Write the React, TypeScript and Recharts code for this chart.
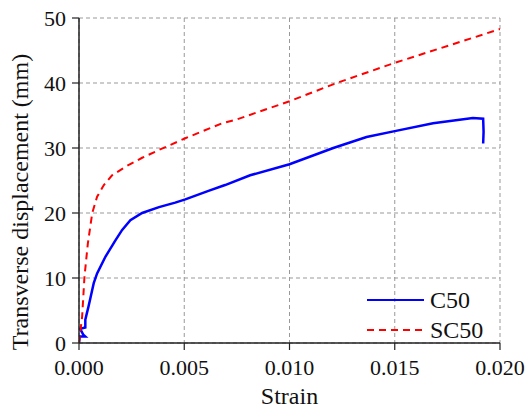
import React from 'react'
import { LineChart, Line, XAxis, YAxis, CartesianGrid } from 'recharts'

const c50Strain = [
  0, 0.00003, 0.0003, 0.0002, 0.00005, 0.0003, 0.0003, 0.00045, 0.00054, 0.0007, 0.00086,
  0.00126, 0.00173, 0.00205, 0.00244, 0.003, 0.0038, 0.00457, 0.00505, 0.00615, 0.00694,
  0.00813, 0.01, 0.01208, 0.01366, 0.015, 0.01682, 0.01871, 0.0192, 0.01922, 0.0192,
]
const c50Disp = [
  0, 1.0, 1.0, 1.3, 2.2, 2.4, 3.6, 5.6, 6.9, 9.2, 10.7,
  13.3, 15.8, 17.4, 18.9, 20.0, 20.9, 21.6, 22.1, 23.4, 24.3,
  25.8, 27.5, 30.0, 31.7, 32.6, 33.8, 34.6, 34.5, 32.5, 30.7,
]

const sc50Strain = [
  0, 0.00015, 0.00026, 0.00042, 0.00063, 0.00086, 0.00118, 0.00157, 0.0022, 0.003,
  0.0038, 0.00505, 0.0068, 0.0075, 0.01, 0.01224, 0.015, 0.0176, 0.02,
]
const sc50Disp = [
  0, 4.1, 10.2, 15.3, 20.0, 22.5, 24.3, 25.8, 27.1, 28.5,
  29.7, 31.5, 33.8, 34.4, 37.2, 40.0, 43.1, 45.8, 48.3,
]

const xTicks = [0, 0.005, 0.01, 0.015, 0.02]
const xMinorTicks = [0.0025, 0.0075, 0.0125, 0.0175]
const xTopTicks = [0.002, 0.004, 0.006, 0.008, 0.01, 0.012, 0.014, 0.016, 0.018]
const yTicks = [0, 10, 20, 30, 40, 50]
const yMinorTicks = [5, 15, 25, 35, 45]

const series = [
  { name: 'C50', color: '#0000ff', width: 2.5, dash: undefined as string | undefined },
  { name: 'SC50', color: '#ff0000', width: 2, dash: '7 5' },
]

const c50Data = c50Strain.map((x, i) => ({ x, y: c50Disp[i] }))
const sc50Data = sc50Strain.map((x, i) => ({ x, y: sc50Disp[i] }))

const FONT = "'Liberation Serif', 'Times New Roman', Times, serif"
const AXIS = '#222'

const tickStyle = { fontSize: 22, fill: '#111', fontFamily: FONT, style: { fontFamily: FONT } }
const blank = () => ''

const YTitle = () => {
  const cx = 20
  const cy = 202
  return (
    <text
      x={cx}
      y={cy}
      transform={`rotate(-90 ${cx} ${cy})`}
      textAnchor="middle"
      dominantBaseline="central"
      fontSize={24}
      fill="#111"
      style={{ fontFamily: FONT }}
    >
      Transverse displacement (mm)
    </text>
  )
}

function LegendBox() {
  return (
    <svg width={130} height={62} style={{ position: 'absolute', left: 365, top: 285 }}>
      {series.map((s, i) => (
        <g key={s.name}>
          <line
            x1={2}
            x2={59}
            y1={15 + i * 30}
            y2={15 + i * 30}
            stroke={s.color}
            strokeWidth={2}
            strokeDasharray={s.dash}
          />
          <text x={65} y={15 + i * 30} dominantBaseline="central" fontSize={24} fill="#111" style={{ fontFamily: FONT }}>
            {s.name}
          </text>
        </g>
      ))}
    </svg>
  )
}

export default function App() {
  return (
    <div style={{ position: 'absolute', left: 0, top: 0, width: 528, height: 408, background: '#fff', fontFamily: FONT }}>
      <LineChart width={528} height={408} margin={{ top: 18, right: 28, bottom: 0, left: 0 }} style={{ fontFamily: FONT }}>
        <CartesianGrid xAxisId="x" yAxisId="y" stroke="#999" strokeDasharray="4 3" />
        <XAxis
          xAxisId="xminor"
          type="number"
          domain={[0, 0.02]}
          allowDataOverflow
          ticks={xMinorTicks}
          interval={0}
          mirror
          height={0}
          tickSize={4}
          tickFormatter={blank}
          axisLine={false}
          tickLine={{ stroke: AXIS, strokeWidth: 1.2 }}
        />
        <XAxis
          xAxisId="x"
          dataKey="x"
          type="number"
          domain={[0, 0.02]}
          allowDataOverflow
          ticks={xTicks}
          interval={0}
          height={65}
          tickSize={7}
          tickMargin={9}
          tick={tickStyle}
          tickFormatter={(v: number) => v.toFixed(3)}
          axisLine={{ stroke: AXIS, strokeWidth: 1.5 }}
          tickLine={{ stroke: AXIS, strokeWidth: 1.2 }}
          label={{ value: 'Strain', position: 'insideBottom', offset: 4, fontSize: 24, fill: '#111', style: { fontFamily: FONT } }}
        />
        <XAxis
          xAxisId="top"
          orientation="top"
          type="number"
          domain={[0, 0.02]}
          allowDataOverflow
          ticks={xTopTicks}
          interval={0}
          mirror
          height={0}
          tickSize={4}
          tickFormatter={blank}
          axisLine={{ stroke: AXIS, strokeWidth: 1.5 }}
          tickLine={{ stroke: AXIS, strokeWidth: 1.2 }}
        />
        <YAxis
          yAxisId="yminor"
          type="number"
          domain={[0, 50]}
          allowDataOverflow
          ticks={yMinorTicks}
          interval={0}
          mirror
          width={0}
          tickSize={4}
          tickFormatter={blank}
          axisLine={false}
          tickLine={{ stroke: AXIS, strokeWidth: 1.2 }}
        />
        <YAxis
          yAxisId="y"
          type="number"
          domain={[0, 50]}
          allowDataOverflow
          ticks={yTicks}
          interval={0}
          width={79}
          tickSize={7}
          tickMargin={6}
          tick={tickStyle}
          axisLine={{ stroke: AXIS, strokeWidth: 1.5 }}
          tickLine={{ stroke: AXIS, strokeWidth: 1.2 }}
          label={<YTitle />}
        />
        <YAxis
          yAxisId="right"
          orientation="right"
          type="number"
          domain={[0, 50]}
          allowDataOverflow
          ticks={yMinorTicks}
          interval={0}
          mirror
          width={0}
          tickSize={4}
          tickFormatter={blank}
          axisLine={{ stroke: AXIS, strokeWidth: 1.5 }}
          tickLine={{ stroke: AXIS, strokeWidth: 1.2 }}
        />
        <Line
          xAxisId="x"
          yAxisId="y"
          data={c50Data}
          dataKey="y"
          name={series[0].name}
          type="linear"
          stroke={series[0].color}
          strokeWidth={series[0].width}
          dot={false}
          isAnimationActive={false}
        />
        <Line
          xAxisId="x"
          yAxisId="y"
          data={sc50Data}
          dataKey="y"
          name={series[1].name}
          type="linear"
          stroke={series[1].color}
          strokeWidth={series[1].width}
          strokeDasharray={series[1].dash}
          dot={false}
          isAnimationActive={false}
        />
      </LineChart>
      <LegendBox />
    </div>
  )
}
